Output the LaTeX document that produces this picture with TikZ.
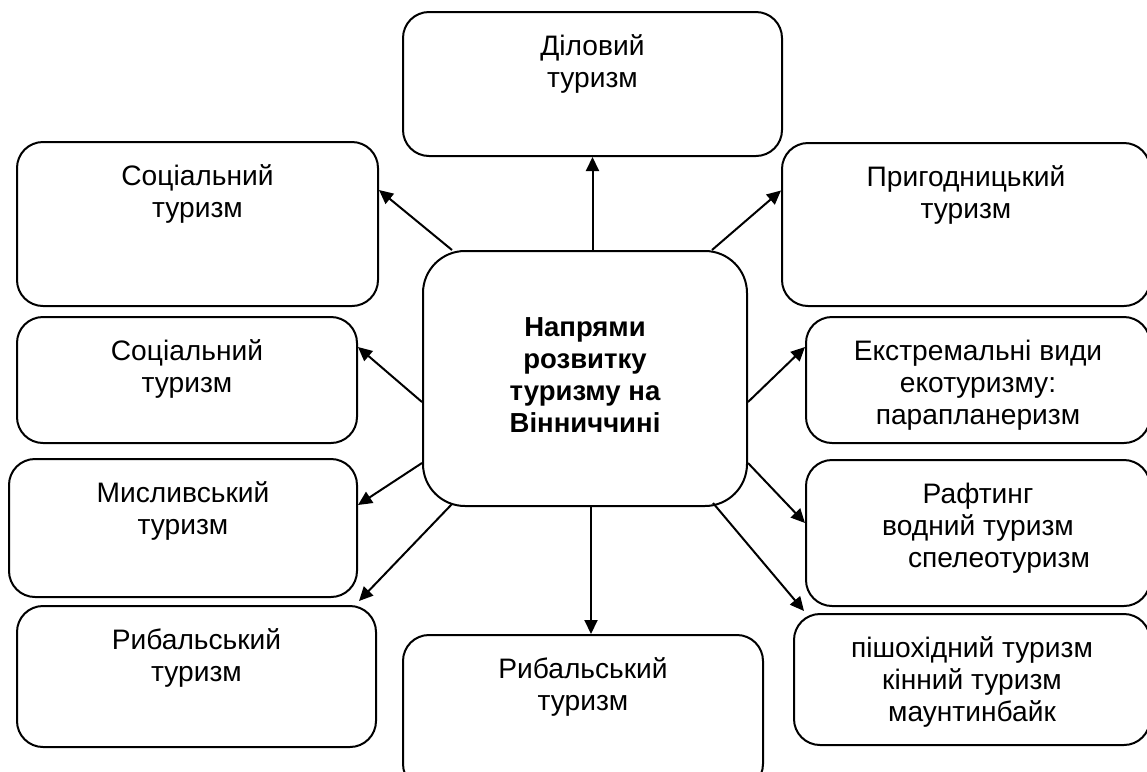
\documentclass[tikz,border=0pt]{standalone}
\usepackage{fontspec}
\setmainfont{Liberation Sans}
\usetikzlibrary{positioning,arrows.meta,calc}

\tikzset{
  box/.style={draw=black, line width=1.2pt, rounded corners=15.6pt, inner sep=0pt},
  txt/.style={align=center, inner sep=0pt, font=\fontsize{16.9pt}{19.2pt}\selectfont},
  arr/.style={line width=1.2pt, -{Triangle[length=8.4pt,width=7.8pt]}}
}

\begin{document}
\begin{tikzpicture}[x=0.6pt, y=-0.6pt]
\useasboundingbox (0,0) rectangle (1147,771);

\node (hub) at (585, 378.5) [box, txt, rounded corners=25.2pt, minimum width=194.4pt, minimum height=153pt, font=\fontsize{16.5pt}{19.2pt}\selectfont\bfseries] {\strut Напрями\\розвитку\\туризму на\\Вінниччині\strut};

\node (dil) at (592.5, 84) [box, minimum width=227.4pt, minimum height=86.4pt] {};
\node (soc1) at (197.5, 224) [box, minimum width=216.6pt, minimum height=98.4pt] {};
\node (prg) at (966, 224.5) [box, minimum width=220.8pt, minimum height=97.8pt] {};
\node (soc2) at (187, 380) [box, minimum width=204pt, minimum height=75.6pt] {};
\node (ext) at (978, 380) [box, minimum width=206.4pt, minimum height=75.6pt] {};
\node (mys) at (183, 528) [box, minimum width=208.8pt, minimum height=82.8pt] {};
\node (raf) at (978, 533) [box, minimum width=206.4pt, minimum height=87.6pt] {};
\node (rib1) at (196.5, 676.5) [box, minimum width=215.4pt, minimum height=84.6pt] {};
\node (rib2) at (583, 712.5) [box, minimum width=216pt, minimum height=93pt] {};
\node (pis) at (972, 679.5) [box, minimum width=213.6pt, minimum height=78.6pt] {};

\node (dilt) [txt, below=12.9pt of dil.north] {\strut Діловий\\туризм};
\node (soc1t) [txt, below=12.9pt of soc1.north] {\strut Соціальний\\туризм};
\node (prgt) [txt, below=12.9pt of prg.north] {\strut Пригодницький\\туризм};
\node (soc2t) [txt, below=12.9pt of soc2.north] {\strut Соціальний\\туризм};
\node (extt) [txt, below=12.9pt of ext.north] {\strut Екстремальні види\\екотуризму:\\парапланеризм};
\node (myst) [txt, below=12.9pt of mys.north] {\strut Мисливський\\туризм};
\node (raft) [txt, below=12.9pt of raf.north] {\strut Рафтинг\\водний туризм\\\hspace*{25.2pt}спелеотуризм};
\node (rib1t) [txt, below=12.9pt of rib1.north] {\strut Рибальський\\туризм};
\node (rib2t) [txt, below=12.9pt of rib2.north] {\strut Рибальський\\туризм};
\node (pist) [txt, below=12.9pt of pis.north] {\strut пішохідний туризм\\кінний туризм\\маунтинбайк};

\draw[arr] (hub.north -| dil.south) -- (dil.south);
\draw[arr] ($(hub.north west)+(30,0)$) -- ($(soc1.east)+(0,-34)$);
\draw[arr] ($(hub.north east)+(-36,0)$) -- ($(prg.west)+(0,-34)$);
\draw[arr] ($(hub.west)+(0,23.5)$) -- ($(soc2.east)+(0,-33)$);
\draw[arr] ($(hub.east)+(0,23.5)$) -- ($(ext.west)+(0,-33)$);
\draw[arr] ($(hub.west)+(0,84.5)$) -- ($(mys.east)+(0,-23)$);
\draw[arr] ($(hub.east)+(0,84.5)$) -- ($(raf.west)+(0,-10)$);
\draw[arr] ($(hub.south west)+(30,-3)$) -- ($(rib1.north east)+(-18,-4)$);
\draw[arr] ($(hub.south east)+(-35,-4)$) -- ($(pis.north west)+(11,-2)$);
\draw[arr] ([xshift=3.6pt]hub.south) -- ([xshift=3.6pt]hub.south |- rib2.north);
\end{tikzpicture}
\end{document}
